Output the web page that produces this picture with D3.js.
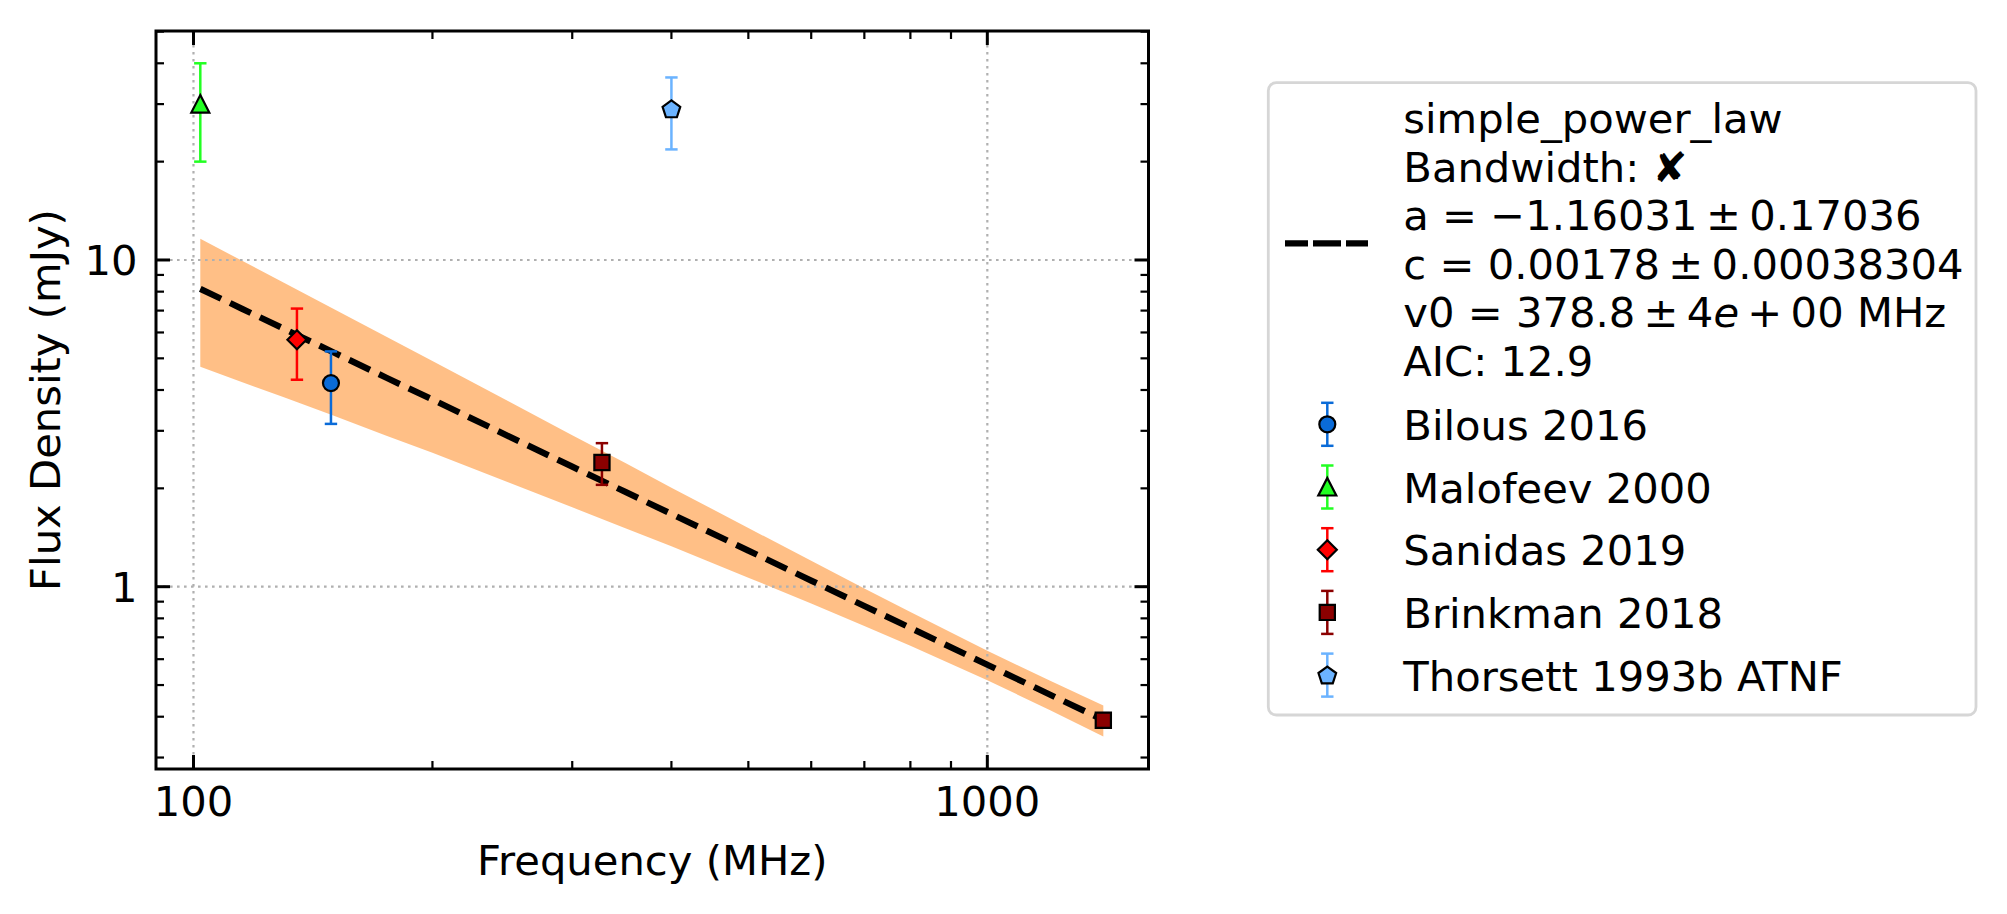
<!DOCTYPE html>
<html>
<head>
<meta charset="utf-8">
<script src="https://cdn.jsdelivr.net/npm/d3@7"></script>
<style>
  html, body { margin: 0; padding: 0; background: #fff; }
  svg { display: block; font-family: "DejaVu Sans", sans-serif; }
</style>
</head>
<body>
<svg id="chart" width="2007" height="914"></svg>
<script>
// measured series (MHz, mJy)
const seriesNames  = ["Bilous 2016", "Malofeev 2000", "Sanidas 2019", "Brinkman 2018", "Thorsett 1993b ATNF"];
const seriesColors = ["#0a6bd8", "#22ff22", "#ff0000", "#8b0000", "#6bb3ff"];
const seriesShapes = ["circle", "triangle", "diamond", "square", "pentagon"];
const seriesFreq   = [[149], [102], [135], [327, 1400], [400]];
const seriesFlux   = [[4.2], [30], [5.7], [2.4, 0.39], [29]];
const seriesErr    = [[1.05], [10], [1.4], [0.35, 0.02], [7.2]];

// fitted curve and its band
const fitFreq = [102, 115, 130, 150, 175, 200, 250, 300, 350, 400, 500, 600, 700, 800, 1000, 1200, 1400];
const fitFlux = [8.16, 7.10, 6.16, 5.22, 4.36, 3.74, 2.88, 2.33, 1.95, 1.67, 1.29, 1.044, 0.873, 0.748, 0.577, 0.467, 0.391];
const fitHigh = [11.61, 9.96, 8.52, 7.09, 5.82, 4.91, 3.68, 2.91, 2.39, 2.01, 1.513, 1.200, 0.988, 0.836, 0.637, 0.515, 0.433];
const fitLow  = [4.71, 4.23, 3.80, 3.34, 2.90, 2.57, 2.08, 1.75, 1.51, 1.33, 1.066, 0.888, 0.758, 0.659, 0.517, 0.419, 0.348];

const xMajor = [100, 1000];
const xMinor = [200, 300, 400, 500, 600, 700, 800, 900];
const yMajor = [1, 10];
const yMinor = [0.3, 0.4, 0.5, 0.6, 0.7, 0.8, 0.9, 2, 3, 4, 5, 6, 7, 8, 9, 20, 30, 40, 50];

const THIN = "\u2009";
const fitLegend = [
  [["simple_power_law"]],
  [["Bandwidth: "], ["\u2718"]],
  [["a = \u22121.16031" + THIN + "\u00b1" + THIN + "0.17036"]],
  [["c = 0.00178" + THIN + "\u00b1" + THIN + "0.00038304"]],
  [["v0 = 378.8" + THIN + "\u00b1" + THIN + "4"], ["e", "italic"], [THIN + "+" + THIN + "00 MHz"]],
  [["AIC: 12.9"]]
];

const FS = 41.7;
const L = 156, R = 1148.5, T = 31, B = 769;

const svg = d3.select("#chart");
svg.append("rect").attr("width", 2007).attr("height", 914).attr("fill", "#fff");

const x = d3.scaleLog().domain([89.7, 1596]).range([L, R]);
const y = d3.scaleLog().domain([0.2767, 50.22]).range([B, T]);

const plot = svg.append("g");

// uncertainty band
const bandData = fitFreq.map((f, i) => ({ f, lo: fitLow[i], hi: fitHigh[i], s: fitFlux[i] }));
plot.append("path")
  .datum(bandData)
  .attr("d", d3.area().x(d => x(d.f)).y0(d => y(d.lo)).y1(d => y(d.hi)))
  .attr("fill", "#ff7f0e")
  .attr("fill-opacity", 0.5);

// grid
const grid = plot.append("g")
  .attr("stroke", "#b0b0b0").attr("stroke-width", 2.2).attr("stroke-dasharray", "2.6,4.4");
xMajor.forEach(v => grid.append("line").attr("x1", x(v)).attr("x2", x(v)).attr("y1", T).attr("y2", B));
yMajor.forEach(v => grid.append("line").attr("x1", L).attr("x2", R).attr("y1", y(v)).attr("y2", y(v)));

// fit line
plot.append("path")
  .datum(bandData)
  .attr("d", d3.line().x(d => x(d.f)).y(d => y(d.s)))
  .attr("fill", "none")
  .attr("stroke", "#000")
  .attr("stroke-width", 6.25)
  .attr("stroke-dasharray", "23,10");

function markerPath(shape) {
  if (shape === "circle") return d3.symbol(d3.symbolCircle, Math.PI * 8 * 8)();
  if (shape === "triangle") return "M0,-9L9,8.5L-9,8.5Z";
  if (shape === "diamond") return "M0,-9.5L9.5,0L0,9.5L-9.5,0Z";
  if (shape === "square") return "M-7.6,-7.6H7.6V7.6H-7.6Z";
  const pts = d3.range(5).map(k => {
    const a = -Math.PI / 2 + k * 2 * Math.PI / 5;
    return [9.3 * Math.cos(a), 9.3 * Math.sin(a) + 0.8];
  });
  return "M" + pts.join("L") + "Z";
}

function drawErrMarker(g, cx, yTop, yBot, cy, color, shape) {
  g.append("line").attr("x1", cx).attr("x2", cx).attr("y1", yTop).attr("y2", yBot)
    .attr("stroke", color).attr("stroke-width", 2.5);
  [yTop, yBot].forEach(yy => g.append("line")
    .attr("x1", cx - 6.2).attr("x2", cx + 6.2).attr("y1", yy).attr("y2", yy)
    .attr("stroke", color).attr("stroke-width", 2.5));
  g.append("path").attr("d", markerPath(shape))
    .attr("transform", `translate(${cx},${cy})`)
    .attr("fill", color).attr("stroke", "#000").attr("stroke-width", 2.2)
    .attr("stroke-linejoin", "miter");
}

// data points
seriesNames.forEach((name, i) => {
  const g = plot.append("g");
  seriesFreq[i].forEach((f, j) => {
    const v = seriesFlux[i][j], e = seriesErr[i][j];
    drawErrMarker(g, x(f), y(v + e), y(v - e), y(v), seriesColors[i], seriesShapes[i]);
  });
});

// spines
svg.append("rect").attr("x", L).attr("y", T).attr("width", R - L).attr("height", B - T)
  .attr("fill", "none").attr("stroke", "#000").attr("stroke-width", 3);

// ticks, all pointing inward
const ticks = svg.append("g").attr("stroke", "#000");
function xTick(v, len, w) {
  ticks.append("line").attr("x1", x(v)).attr("x2", x(v)).attr("y1", B).attr("y2", B - len).attr("stroke-width", w);
  ticks.append("line").attr("x1", x(v)).attr("x2", x(v)).attr("y1", T).attr("y2", T + len).attr("stroke-width", w);
}
function yTick(v, len, w) {
  ticks.append("line").attr("x1", L).attr("x2", L + len).attr("y1", y(v)).attr("y2", y(v)).attr("stroke-width", w);
  ticks.append("line").attr("x1", R).attr("x2", R - len).attr("y1", y(v)).attr("y2", y(v)).attr("stroke-width", w);
}
xMajor.forEach(v => xTick(v, 14, 3));
xMinor.forEach(v => xTick(v, 8, 2.2));
yMajor.forEach(v => yTick(v, 14, 3));
yMinor.forEach(v => yTick(v, 8, 2.2));

const labels = svg.append("g").attr("font-size", FS).attr("fill", "#000");
xMajor.forEach(v => labels.append("text")
  .attr("x", x(v)).attr("y", 816).attr("text-anchor", "middle").text(d3.format("d")(v)));
yMajor.forEach(v => labels.append("text")
  .attr("x", 137.5).attr("y", y(v) + 15).attr("text-anchor", "end").text(d3.format("d")(v)));

labels.append("text").attr("x", (L + R) / 2).attr("y", 875).attr("text-anchor", "middle")
  .text("Frequency (MHz)");
labels.append("text").attr("transform", "translate(60.4,400) rotate(-90)")
  .attr("text-anchor", "middle").text("Flux Density (mJy)");

// legend
const lg = svg.append("g").attr("font-size", FS);
lg.append("rect").attr("x", 1268.3).attr("y", 82.7).attr("width", 707.7).attr("height", 632.3)
  .attr("rx", 8).attr("fill", "#fff").attr("stroke", "#d6d6d6").attr("stroke-width", 2.8);

lg.append("line").attr("x1", 1285).attr("x2", 1368.4).attr("y1", 243.3).attr("y2", 243.3)
  .attr("stroke", "#000").attr("stroke-width", 6.25).attr("stroke-dasharray", "23,5,28,5,22");

fitLegend.forEach((parts, i) => {
  const t = lg.append("text").attr("x", 1403.3).attr("y", 133.3 + i * 48.5);
  parts.forEach(([str, style]) => {
    const ts = t.append("tspan").text(str);
    if (style) ts.attr("font-style", style);
  });
});

seriesNames.forEach((name, i) => {
  const cy = 424.3 + i * 62.7;
  drawErrMarker(lg, 1327.3, cy - 21.5, cy + 21.5, cy, seriesColors[i], seriesShapes[i]);
  lg.append("text").attr("x", 1403.3).attr("y", cy + 15.5).text(name);
});
</script>
</body>
</html>
